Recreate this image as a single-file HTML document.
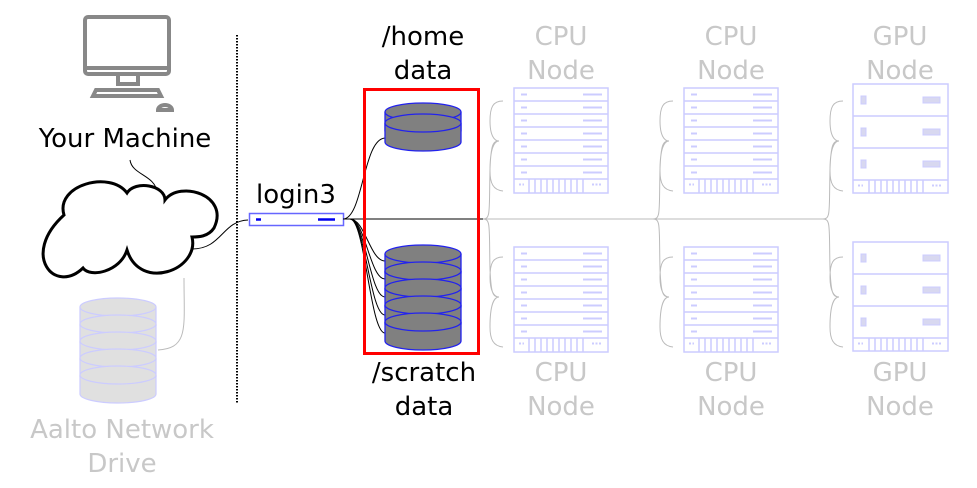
<!DOCTYPE html>
<html><head><meta charset="utf-8"><style>
html,body{margin:0;padding:0;background:#fff}
svg{display:block}
text{font-family:"DejaVu Sans","Liberation Sans",sans-serif;font-size:26px;text-anchor:middle}
</style></head><body>
<svg width="977" height="488" viewBox="0 0 977 488" xmlns="http://www.w3.org/2000/svg">
<defs>
<g id="cpu" fill="none" stroke="#ccccff" stroke-width="1.5">
<rect x="0" y="0" width="94" height="105"/>
<line x1="0" y1="13" x2="94" y2="13"/><line x1="0" y1="26" x2="94" y2="26"/><line x1="0" y1="39" x2="94" y2="39"/>
<line x1="0" y1="52" x2="94" y2="52"/><line x1="0" y1="65" x2="94" y2="65"/><line x1="0" y1="78" x2="94" y2="78"/><line x1="0" y1="91" x2="94" y2="91"/>
<g stroke-width="2">
<path d="M7 6.5h6M7 19.5h6M7 32.5h6M7 45.5h6M7 58.5h6M7 71.5h6M7 84.5h6"/>
<path d="M69 6.5h19M69 19.5h19M69 32.5h19M69 45.5h19M69 58.5h19M69 71.5h19M69 84.5h19"/>
</g>
<path d="M15 91v14M21 91v14M27 91v14M33 91v14M39 91v14M45 91v14M51 91v14M57 91v14M63 91v14M69 91v14"/>
<path d="M5 96.5h5M78 96.5h10" stroke-dasharray="2 1.5" stroke-width="2"/>
</g>
<g id="gpu" fill="none" stroke="#ccccff" stroke-width="1.5">
<rect x="0" y="0" width="95" height="109"/>
<line x1="0" y1="32" x2="95" y2="32"/><line x1="0" y1="64" x2="95" y2="64"/><line x1="0" y1="96" x2="95" y2="96"/>
<g fill="#d8d8f0" stroke="#ccccff" stroke-width="1"><rect x="8" y="12" width="5" height="8"/><rect x="8" y="44" width="5" height="8"/><rect x="8" y="76" width="5" height="8"/>
<rect x="70" y="13" width="17" height="6"/><rect x="70" y="45" width="17" height="6"/><rect x="70" y="77" width="17" height="6"/></g>
<path d="M16 96v13M22 96v13M28 96v13M34 96v13M40 96v13M46 96v13M52 96v13M58 96v13M64 96v13M70 96v13"/>
<path d="M5 101.5h5M79 101.5h10" stroke-dasharray="2 1.5" stroke-width="2"/>
</g>
<g id="disk" stroke="#2222ee" stroke-width="1.3" fill="#808080">
<path d="M0 10v19a38 9 0 0 0 76 0v-19"/>
<ellipse cx="38" cy="10" rx="38" ry="9"/>
</g>
<g id="ldisk" stroke="#ccccff" stroke-width="1.2" fill="#e0e0e0">
<path d="M0 10v19a38 9 0 0 0 76 0v-19"/>
<ellipse cx="38" cy="10" rx="38" ry="9"/>
</g>
</defs>

<!-- monitor -->
<g fill="none" stroke="#888" stroke-width="4">
<rect x="85" y="17" width="84" height="57" rx="3"/>
<line x1="85" y1="68" x2="169" y2="68"/>
<path d="M118 76v8h20v-8"/>
<path d="M93 96l3-6h62l3 6z"/>
<path d="M158 110a7 5 0 0 1 14 0z"/>
</g>
<text x="125" y="147">Your Machine</text>
<path d="M130 160c2 15 25 15 27 32" stroke="#000" fill="none" stroke-width="1"/>

<!-- cloud -->
<path d="M64 215C55 185 110 170 127 193C135 180 165 185 165 200C180 180 230 195 214 228C208 237 198 237 192 237C200 270 140 292 127 250C120 272 90 278 83 268C55 295 20 255 64 215Z" fill="#fff" stroke="#000" stroke-width="3"/>
<path d="M192 249c30 0 30-28 56-29" stroke="#000" fill="none" stroke-width="1"/>
<path d="M184 278c0 50 5 70-26 72" stroke="#bbb" fill="none" stroke-width="1"/>

<!-- aalto db -->
<use href="#ldisk" x="80" y="297"/><use href="#ldisk" x="80" y="314"/><use href="#ldisk" x="80" y="331"/>
<use href="#ldisk" x="80" y="348"/><use href="#ldisk" x="80" y="365"/>
<text x="122" y="438" fill="#c8c8c8">Aalto Network</text>
<text x="122" y="472" fill="#c8c8c8">Drive</text>

<line x1="237" y1="35" x2="237" y2="403" stroke="#000" stroke-width="2" stroke-dasharray="1.5 1.5"/>

<!-- login -->
<text x="296" y="203">login3</text>
<rect x="249.5" y="213.5" width="94" height="12" fill="#fff" stroke="#6666ff" stroke-width="1.5"/>
<path d="M256 219.5h5M318 219.5h17" stroke="#0000ee" stroke-width="2.5"/>

<!-- lines to storage -->
<g stroke="#000" fill="none" stroke-width="1">
<path d="M343 219c20 0 20-80 42-81"/>
<path d="M343 219H483"/>
<path d="M350 219c15 0 20 42 35 42"/><path d="M350 219c15 0 20 60 35 60"/><path d="M350 219c15 0 20 78 35 78"/>
<path d="M350 219c15 0 20 96 35 96"/><path d="M350 219c15 0 20 114 35 114"/>
</g>

<!-- home db -->
<use href="#disk" x="385" y="102"/><use href="#disk" x="385" y="113"/>
<!-- scratch db -->
<use href="#disk" x="385" y="244"/><use href="#disk" x="385" y="261"/><use href="#disk" x="385" y="278"/>
<use href="#disk" x="385" y="295"/><use href="#disk" x="385" y="312"/>

<rect x="364.5" y="89.5" width="114" height="264" fill="none" stroke="#ff0000" stroke-width="3"/>
<text x="423" y="45">/home</text><text x="423" y="79">data</text>
<text x="424" y="381">/scratch</text><text x="424" y="415">data</text>

<!-- gray bus -->
<g stroke="#bbb" fill="none" stroke-width="1">
<path d="M483 219H825"/>
<path d="M483 219c8 0 6-8 7-50c1-25 3-28 9-28c-5 0-9-6-9-20c0-14 3-20 13-20M499 141c-5 0-9 8-9 30c0 12 3 19 13 20"/>
<path d="M483 219c8 0 6 8 7 50c1 25 3 28 9 28c-5 0-9-6-9-20c0-14 3-20 13-20M499 297c-5 0-9 8-9 30c0 12 3 19 13 20"/>
<path d="M653 219c8 0 6-8 7-50c1-25 3-28 9-28c-5 0-9-6-9-20c0-14 3-20 13-20M669 141c-5 0-9 8-9 30c0 12 3 19 13 20"/>
<path d="M653 219c8 0 6 8 7 50c1 25 3 28 9 28c-5 0-9-6-9-20c0-14 3-20 13-20M669 297c-5 0-9 8-9 30c0 12 3 19 13 20"/>
<path d="M823 219c8 0 6-8 7-50c1-25 3-28 9-28c-5 0-9-6-9-20c0-14 3-20 13-20M839 141c-5 0-9 8-9 30c0 12 3 19 13 20"/>
<path d="M823 219c8 0 6 8 7 50c1 25 3 28 9 28c-5 0-9-6-9-20c0-14 3-20 13-20M839 297c-5 0-9 8-9 30c0 12 3 19 13 20"/>
</g>

<use href="#cpu" x="514" y="88"/><use href="#cpu" x="514" y="247"/>
<use href="#cpu" x="684" y="88"/><use href="#cpu" x="684" y="247"/>
<use href="#gpu" x="853" y="84"/><use href="#gpu" x="853" y="242"/>

<g fill="#c8c8c8">
<text x="561" y="45">CPU</text><text x="561" y="79">Node</text>
<text x="731" y="45">CPU</text><text x="731" y="79">Node</text>
<text x="900" y="45">GPU</text><text x="900" y="79">Node</text>
<text x="561" y="381">CPU</text><text x="561" y="415">Node</text>
<text x="731" y="381">CPU</text><text x="731" y="415">Node</text>
<text x="900" y="381">GPU</text><text x="900" y="415">Node</text>
</g>
</svg>
</body></html>
